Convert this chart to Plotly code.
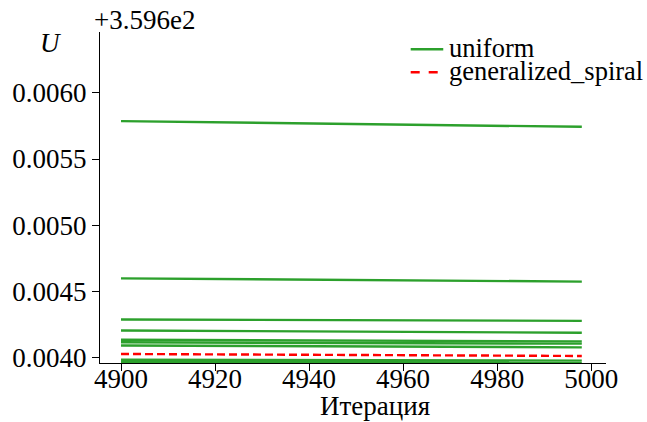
import plotly.graph_objects as go

# Data (values shown relative to the axis offset +3.596e2)
OFFSET_LABEL = "+3.596e2"
iterations = [4900, 4998]
uniform_start = [0.005786, 0.004600, 0.004290, 0.004207, 0.004137, 0.004118, 0.004094, 0.003986, 0.003971]
uniform_end = [0.005743, 0.004576, 0.004280, 0.004190, 0.004125, 0.004108, 0.004080, 0.003980, 0.003966]
spiral_vals = [0.004030, 0.004015]
y_ticks = [0.0040, 0.0045, 0.0050, 0.0055, 0.0060]
x_ticks = [4900, 4920, 4940, 4960, 4980, 5000]

GREEN = "#2ca02c"
RED = "#ff0000"
FONT = "Liberation Serif, Times New Roman, serif"
FS = 27

fig = go.Figure()
for i, (s, e) in enumerate(zip(uniform_start, uniform_end)):
    fig.add_trace(go.Scatter(x=iterations, y=[s, e], mode="lines",
                             line=dict(color=GREEN, width=2.4),
                             name="uniform", showlegend=False))
fig.add_trace(go.Scatter(x=iterations, y=spiral_vals, mode="lines",
                         line=dict(color=RED, width=2.4, dash="8px,4px"),
                         name="generalized_spiral", showlegend=False))

L, R, T, B = 93, 41, 32, 59
W, H = 647, 422
pw, ph = W - L - R, H - T - B
def px(x):
    return (x - L) / pw
def py(y):
    return (H - B - y) / ph

fig.update_layout(
    width=W, height=H,
    margin=dict(l=L, r=R, t=T, b=B),
    plot_bgcolor="white", paper_bgcolor="white",
    font=dict(family=FONT, size=FS, color="black"),
    showlegend=False,
    xaxis=dict(range=[4895.53, 5003.15], tickvals=x_ticks, ticks="outside",
               ticklen=7, tickwidth=1, tickcolor="black", showline=True,
               linecolor="black", linewidth=1, showgrid=False, zeroline=False,
               ticklabelstandoff=-15,
               tickfont=dict(family=FONT, size=FS)),
    yaxis=dict(range=[0.003962, 0.006458], tickvals=y_ticks, tickformat=".4f",
               ticks="outside", ticklen=7, tickwidth=1, tickcolor="black",
               showline=True, linecolor="black", linewidth=1, showgrid=False,
               zeroline=False, tickfont=dict(family=FONT, size=FS)),
)

# legend (drawn manually to match compact spacing)
legend_items = [("uniform", GREEN, "solid", 48.5), ("generalized_spiral", RED, "dash", 71.5)]
for label, col, dash, yy in legend_items:
    fig.add_shape(type="line", xref="paper", yref="paper",
                  x0=px(408), x1=px(441), y0=py(yy + 0.8), y1=py(yy + 0.8),
                  line=dict(color=col, width=2.4, dash=dash))
    fig.add_annotation(text=label, xref="paper", yref="paper", x=px(445), y=py(yy),
                       xanchor="left", yanchor="middle", showarrow=False,
                       font=dict(family=FONT, size=26.5))

fig.add_annotation(text=OFFSET_LABEL, xref="paper", yref="paper", x=px(85), y=py(20),
                   xanchor="left", yanchor="middle", showarrow=False,
                   font=dict(family=FONT, size=FS))
fig.add_annotation(text="<i>U</i>", xref="paper", yref="paper", x=px(43), y=py(43),
                   xanchor="center", yanchor="middle", showarrow=False,
                   font=dict(family=FONT, size=FS))
fig.add_annotation(text="Итерация", xref="paper", yref="paper", x=px(372), y=py(406),
                   xanchor="center", yanchor="middle", showarrow=False,
                   font=dict(family=FONT, size=FS))

fig.write_html("out.html")
